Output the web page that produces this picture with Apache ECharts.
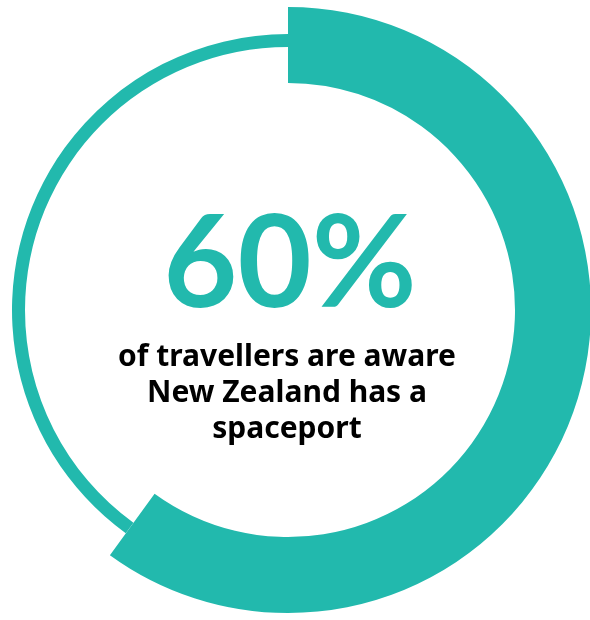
<!DOCTYPE html>
<html>
<head>
<meta charset="utf-8">
<script src="https://cdn.jsdelivr.net/npm/echarts@6/dist/echarts.min.js"></script>
<style>
  html, body { margin: 0; padding: 0; background: #fff; }
  #donutChart { width: 590px; height: 620px; }
</style>
</head>
<body>
<div id="donutChart"></div>
<script>
// data
var categories = ['Aware', 'Not aware'];
var values = [60, 40];
var headline = '60%';
var captionLines = ['of travellers are aware', 'New Zealand has a', 'spaceport'];

var teal = '#22b9ad';

var myChart = echarts.init(document.getElementById('donutChart'));

var option = {
    animation: false,
    graphic: [
        {
            type: 'text',
            x: 290,
            y: 202,
            style: {
                text: headline,
                fill: teal,
                font: 'bold 128px Lato',
                textAlign: 'center',
                textVerticalAlign: 'top'
            }
        },
        {
            type: 'text',
            x: 287,
            y: 339,
            style: {
                text: captionLines.join('\n'),
                fill: '#000',
                font: 'bold 30px "Noto Sans"',
                lineHeight: 36,
                textAlign: 'center',
                textVerticalAlign: 'top'
            }
        }
    ],
    series: [
        {
            // thin ring (remaining share)
            type: 'pie',
            center: [288, 310],
            radius: [263, 276],
            startAngle: 90,
            clockwise: true,
            silent: true,
            label: { show: false },
            labelLine: { show: false },
            data: categories.map(function (c, i) {
                return {
                    name: c,
                    value: values[i],
                    itemStyle: { color: i === 0 ? 'rgba(0,0,0,0)' : teal }
                };
            })
        },
        {
            // thick arc (main share)
            type: 'pie',
            center: [288, 310],
            radius: [227, 303],
            startAngle: 90,
            clockwise: true,
            silent: true,
            label: { show: false },
            labelLine: { show: false },
            data: categories.map(function (c, i) {
                return {
                    name: c,
                    value: values[i],
                    itemStyle: { color: i === 0 ? teal : 'rgba(0,0,0,0)' }
                };
            })
        }
    ]
};

myChart.setOption(option);
</script>
</body>
</html>
